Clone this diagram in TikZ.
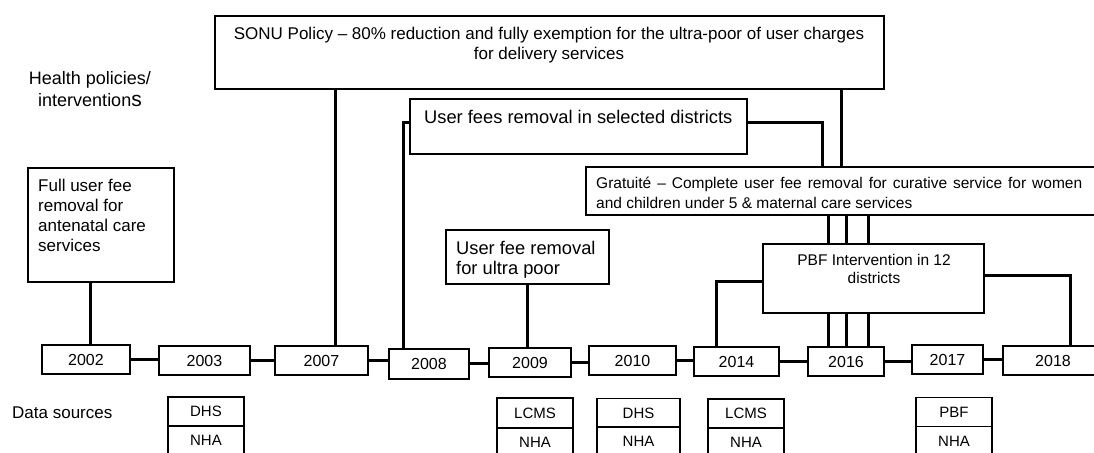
\documentclass[tikz,border=0pt]{standalone}
\usepackage{fontspec}
\setmainfont{Liberation Sans}
\usetikzlibrary{calc}
\tikzset{
  box/.style={draw, line width=1.8bp, inner sep=0pt, rectangle},
  yr/.style={box, minimum height=29bp, font=\fontsize{16bp}{19bp}\selectfont},
  ds/.style={box, minimum width=76bp, minimum height=29bp, font=\fontsize{15bp}{18bp}\selectfont},
  conn/.style={line width=3bp},
  txt/.style={inner sep=0pt},
}
\begin{document}
\begin{tikzpicture}[x=1bp,y=-1bp]
\clip (0,0) rectangle (1094,453);
\fill[white] (0,0) rectangle (1094,453);

% year boxes
\node[yr, minimum width=88bp] (y2002) at (86,359.5) {2002};
\node[yr, minimum width=91bp] (y2003) at (204.5,360.5) {2003};
\node[yr, minimum width=93bp] (y2007) at (321.5,360.5) {2007};
\node[yr, minimum width=80bp, minimum height=30bp] (y2008) at (429,364) {2008};
\node[yr, minimum width=82bp] (y2009) at (530,362.5) {2009};
\node[yr, minimum width=87bp] (y2010) at (632.5,360.5) {2010};
\node[yr, minimum width=85bp] (y2014) at (736.5,361.5) {2014};
\node[yr, minimum width=76bp] (y2016) at (846,361.5) {2016};
\node[yr, minimum width=71bp] (y2017) at (947.5,359.5) {2017};
\node[yr, minimum width=100bp] (y2018) at (1053,360.5) {2018};

\foreach \a/\b in {y2002/y2003,y2003/y2007,y2007/y2008,y2008/y2009,y2009/y2010,y2010/y2014,y2014/y2016,y2016/y2017,y2017/y2018}
  \draw[conn] (\a.east) -- (\a.east -| \b.west);

% labels
\node[txt, anchor=north, align=center, font=\fontsize{18bp}{22bp}\selectfont] (hplabel) at (90,71.5)
  {Health policies/\\intervention{\fontsize{21bp}{22bp}\selectfont s}};
\node[txt, anchor=west, font=\fontsize{17bp}{20bp}\selectfont] (dslabel) at (12,413) {Data sources};

% policy boxes
\node[box, minimum width=669bp, minimum height=73bp] (sonu) at (549.5,52.5) {};
\node[txt, anchor=north, align=center, font=\fontsize{17bp}{20bp}\selectfont] (sonutext) at (549,27)
  {SONU Policy -- 80\% reduction and fully exemption for the ultra-poor of user charges\\for delivery services};

\node[box, minimum width=337bp, minimum height=55bp] (ufr) at (578.5,126.5) {};
\node[txt, anchor=west, font=\fontsize{18.3bp}{22bp}\selectfont] (ufrtext) at (424,117)
  {User fees removal in selected districts};

\node[box, minimum width=524bp, minimum height=48bp] (grat) at (848,191) {};
\node[txt, anchor=north west, text width=486bp, align=justify, font=\fontsize{15.5bp}{20bp}\selectfont] (grattext) at (596,177)
  {Gratuité -- Complete user fee removal for curative service for women and children under 5 \& maternal care services};

\node[box, minimum width=146bp, minimum height=114bp] (full) at (101,225) {};
\node[txt, anchor=north west, align=left, font=\fontsize{17bp}{20bp}\selectfont] (fulltext) at (38,179)
  {Full user fee\\removal for\\antenatal care\\services};

\node[box, minimum width=163bp, minimum height=54bp] (ultra) at (527.5,257) {};
\node[txt, anchor=north west, align=left, font=\fontsize{18.3bp}{20bp}\selectfont] (ultratext) at (456,241.5)
  {User fee removal\\for ultra poor};

\node[box, minimum width=221bp, minimum height=69bp] (pbf) at (873.5,278.5) {};
\node[txt, anchor=north, align=center, font=\fontsize{15.5bp}{18bp}\selectfont] (pbftext) at (874,254.5)
  {PBF Intervention in 12\\districts};

% data source boxes
\node[ds] (dhsA) at (206,411.5) {DHS};
\node[ds] (nhaA) at (206,440.5) {NHA};
\node[ds, minimum height=30bp] (lcmsA) at (535,413) {LCMS};
\node[ds] (nhaB) at (535,442.5) {NHA};
\node[ds, minimum width=83bp] (dhsB) at (638.5,413) {DHS};
\node[ds, minimum width=83bp] (nhaC) at (638.5,441.5) {NHA};
\node[ds] (lcmsB) at (746,413.5) {LCMS};
\node[ds] (nhaD) at (746,442.5) {NHA};
\node[ds] (pbfD) at (954,412) {PBF};
\node[ds] (nhaE) at (954,441) {NHA};

% connectors
\draw[conn] ([xshift=4bp]y2002.north) -- ([xshift=4bp]y2002.north |- full.south);
\draw[conn] ([xshift=13.5bp]y2007.north) -- ([xshift=13.5bp]y2007.north |- sonu.south);
\draw[conn] ([xshift=256bp]grat.north west) -- ([xshift=256bp]grat.north west |- sonu.south);
\draw[conn] ([yshift=3.5bp]ufr.west) -| ([xshift=-26bp]y2008.north);
\draw[conn] ([yshift=3.5bp]ufr.east) -| ([xshift=237bp]grat.north west);
\draw[conn] (ultra.south) -- (ultra.south |- y2009.north);
\foreach \d in {-18,0,22} {
  \draw[conn] ([xshift=\d bp]y2016.north) -- ([xshift=\d bp]y2016.north |- pbf.south);
  \draw[conn] ([xshift=\d bp]y2016.north |- pbf.north) -- ([xshift=\d bp]y2016.north |- grat.south);
}
\draw[conn] ([yshift=-3.5bp]pbf.west) -| ([xshift=-20.5bp]y2014.north);
\draw[conn] ([yshift=2.5bp]pbf.east) -| ([xshift=17bp]y2018.north);
\end{tikzpicture}
\end{document}
